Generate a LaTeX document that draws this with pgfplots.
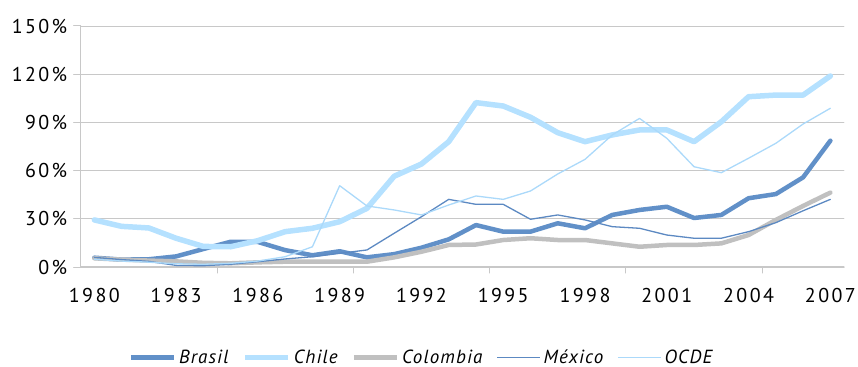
\documentclass[border=0pt]{standalone}
\usepackage{pgfplots}
\pgfplotsset{compat=1.18}
\usepackage{pgfplotstable}
\usepackage{fontspec}
\setmainfont{PT Sans}
\newfontfamily\tickfont[LetterSpace=12]{PT Sans}
\newfontfamily\legfont[LetterSpace=6]{PT Sans}

\definecolor{cbrasil}{HTML}{6190C8}
\definecolor{cchile}{HTML}{B5E1FF}
\definecolor{ccolombia}{HTML}{C0C0C0}
\definecolor{cmexico}{HTML}{5C89C2}
\definecolor{cocde}{HTML}{ABD9FA}
\definecolor{gridgray}{HTML}{C8C8C8}

% share of exports, in percent
\pgfplotstableread{
year brasil chile colombia mexico ocde
1980  5.8  29.3  5.4  6.0  4.8
1981  4.6  25.3  4.6  4.6  3.7
1982  4.8  24.3  4.0  3.5  3.0
1983  6.6  17.9  3.5  1.0  2.0
1984 11.2  12.8  2.6  0.8  1.7
1985 15.7  12.6  2.3  1.7  2.3
1986 15.6  16.4  2.9  3.3  3.7
1987 10.5  22.0  3.3  5.0  6.4
1988  7.3  24.1  3.3  6.4 12.6
1989  9.8  28.2  3.3  8.5 50.6
1990  6.0  36.5  3.3 10.6 38.0
1991  8.0  56.5  6.0 21.0 35.5
1992 12.0  64.1  9.5 31.3 32.4
1993 17.2  78.0 13.7 42.1 38.6
1994 26.1 102.3 14.0 39.0 44.2
1995 22.0 100.2 16.8 39.0 42.1
1996 22.0  93.2 17.9 29.7 47.3
1997 27.2  83.6 16.8 32.4 57.9
1998 24.1  78.0 16.8 29.3 67.0
1999 32.4  82.2 14.7 25.1 82.2
2000 35.5  85.3 12.6 24.1 92.5
2001 37.5  85.3 13.7 19.9 80.1
2002 30.5  78.0 13.7 17.9 62.4
2003 32.4  90.4 14.7 17.9 58.7
2004 42.8 106.0 19.9 22.0 67.7
2005 45.4 107.0 29.3 27.6 77.0
2006 55.8 107.0 38.0 35.0 89.0
2007 78.6 118.9 46.3 42.1 98.8
}\datatable

\begin{document}
\begin{tikzpicture}
\useasboundingbox (0,0) rectangle (858bp,367bp);
\begin{axis}[
  at={(80.7bp,100bp)}, anchor=south west,
  scale only axis, width=763.3bp, height=241bp,
  xmin=1979.5, xmax=2007.5, ymin=0, ymax=150,
  axis x line*=bottom, axis y line*=left,
  axis line style={draw=gridgray, line width=1.2bp},
  ytick={0,30,60,90,120,150},
  yticklabels={0\%,30\%,60\%,90\%,120\%,150\%},
  ymajorgrids, grid style={gridgray, line width=0.9bp},
  tick align=outside, major tick length=7bp,
  y tick style={draw=gridgray, line width=1bp},
  xtick={1980,1983,...,2007},
  xticklabels={1980,1983,1986,1989,1992,1995,1998,2001,2004,2007},
  x tick style={draw=none},
  extra x ticks={1984.5,1989.5,1994.5,1999.5,2004.5},
  extra x tick labels={},
  extra x tick style={x tick style={draw=gridgray, line width=1bp}, major tick length=6bp, grid=none},
  tick label style={font=\tickfont\fontsize{20bp}{24bp}\selectfont, text=black},
  x tick label style={yshift=-11bp},
  y tick label style={xshift=-3bp},
  legend columns=5,
  legend style={at={(0.447,-0.375)}, anchor=center, draw=none, fill=none,
    font=\legfont\itshape\fontsize{19bp}{22bp}\selectfont,
    nodes={inner sep=3bp},
    /tikz/every even column/.append style={column sep=11bp}},
  legend image code/.code={\draw[#1] (0bp,0bp) -- (43bp,0bp);},
  line join=round, line cap=round,
]
\addplot[no marks, cbrasil, line width=4.5bp] table[x=year, y=brasil] {\datatable};
\addlegendentry{Brasil}
\addplot[no marks, cchile, line width=5.5bp] table[x=year, y=chile] {\datatable};
\addlegendentry{Chile}
\addplot[no marks, ccolombia, line width=4.5bp] table[x=year, y=colombia] {\datatable};
\addlegendentry{Colombia}
\addplot[no marks, cmexico, line width=1.3bp] table[x=year, y=mexico] {\datatable};
\addlegendentry{México}
\addplot[no marks, cocde, line width=1.3bp] table[x=year, y=ocde] {\datatable};
\addlegendentry{OCDE}
\end{axis}
\end{tikzpicture}
\end{document}
